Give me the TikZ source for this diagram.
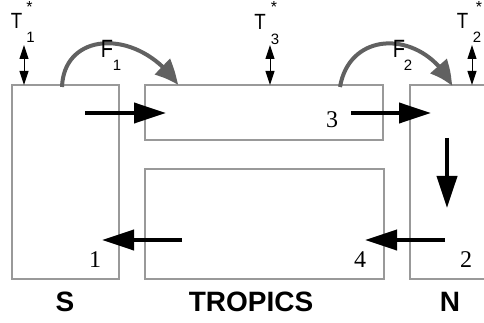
\documentclass[tikz,border=0pt]{standalone}
\usepackage{fontspec}
\usepackage{graphicx}
\setmainfont{Liberation Serif}
\newfontfamily\lsans{Liberation Sans}
\usetikzlibrary{arrows.meta,bending}
\begin{document}
\begin{tikzpicture}[x=1pt,y=-1pt,
  boxline/.style={draw=black!40, line width=1.5pt},
  flow/.style={line width=4pt, -{Triangle[length=32pt,width=20pt]}},
  fluxarrow/.style={draw=black!62, line width=4pt, -{Triangle[length=25pt,width=21pt,bend]}},
  tarrow/.style={line width=1pt, {Triangle[length=14pt,width=9pt]}-{Triangle[length=14pt,width=9pt]}},
  num/.style={inner sep=0pt, font=\fontsize{24}{24}\selectfont},
  region/.style={inner sep=0pt, font=\lsans\bfseries\fontsize{28}{28}\selectfont},
  tsym/.style={inner sep=0pt, font=\lsans\fontsize{22}{22}\selectfont},
  fsym/.style={inner sep=0pt, font=\lsans\fontsize{25}{25}\selectfont},
  subsym/.style={inner sep=0pt, font=\lsans\fontsize{15}{15}\selectfont},
  starsym/.style={inner sep=0pt, font=\lsans\fontsize{16}{16}\selectfont}
]
\useasboundingbox (0,0) rectangle (484,323);

% boxes
\draw[boxline] (12,85) rectangle (119,279);
\draw[boxline] (145,85) rectangle (383,140);
\draw[boxline] (145,169) rectangle (384,279);
\draw[boxline] (486,85) -- (410,85) -- (410,279) -- (486,279);

% flow arrows
\coordinate (a1s) at (85,113);  \coordinate (a1e) at (166,113);
\coordinate (a3s) at (351,113); \coordinate (a3e) at (431,113);
\coordinate (ads) at (447,138); \coordinate (ade) at (447,208);
\coordinate (a4s) at (445,240); \coordinate (a4e) at (365,240);
\coordinate (a5s) at (182,240); \coordinate (a5e) at (102,240);
\draw[flow] (a1s) -- (a1e);
\draw[flow] (a3s) -- (a3e);
\draw[flow] (ads) -- (ade);
\draw[flow] (a4s) -- (a4e);
\draw[flow] (a5s) -- (a5e);

% exchange arrows T*
\coordinate (t1a) at (24,45);  \coordinate (t1b) at (24,85);
\coordinate (t3a) at (270,45); \coordinate (t3b) at (270,85);
\coordinate (t2a) at (472,45); \coordinate (t2b) at (472,85);
\draw[tarrow] (t1a) -- (t1b);
\draw[tarrow] (t3a) -- (t3b);
\draw[tarrow] (t2a) -- (t2b);

% flux arcs
\coordinate (f1s) at (62,87);  \coordinate (f1e) at (178,85);
\coordinate (f2s) at (340,87); \coordinate (f2e) at (452,86);
\draw[fluxarrow] (f1s) .. controls (64,30) and (140,28) .. (f1e);
\draw[fluxarrow] (f2s) .. controls (350,28) and (425,30) .. (f2e);

% T* labels
\node[tsym] (T1) at (16.5,20.5) {\scalebox{0.85}[1]{T}};
\node[starsym] (T1star) at (29.5,7) {*};
\node[subsym] (T1sub) at (30.5,37.5) {1};
\node[tsym] (T3) at (260,21.5) {\scalebox{0.85}[1]{T}};
\node[starsym] (T3star) at (274,7) {*};
\node[subsym] (T3sub) at (275,39) {3};
\node[tsym] (T2) at (462.5,20.5) {\scalebox{0.85}[1]{T}};
\node[starsym] (T2star) at (479,7) {*};
\node[subsym] (T2sub) at (477,37) {2};

% F labels
\node[fsym] (F1) at (107,49) {\scalebox{0.8}[1]{F}};
\node[subsym] (F1sub) at (117,65) {1};
\node[fsym] (F2) at (399,49) {\scalebox{0.8}[1]{F}};
\node[subsym] (F2sub) at (408,65) {2};

% box numbers
\node[num] (n1) at (95,260) {1};
\node[num] (n2) at (466,260) {2};
\node[num] (n3) at (332,120) {3};
\node[num] (n4) at (360,260) {4};

% region labels
\node[region] (S) at (65,302) {S};
\node[region] (TR) at (251,302) {TROPICS};
\node[region] (N) at (450,302) {N};
\end{tikzpicture}
\end{document}
